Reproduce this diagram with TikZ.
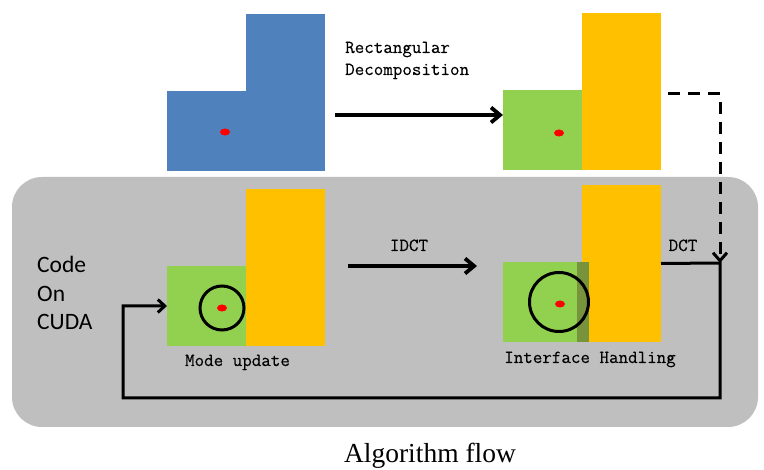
\documentclass[tikz,border=0pt]{standalone}
\usepackage{fontspec}
\setsansfont{Carlito}
\newfontfamily\flowfont{Liberation Serif}
\newfontfamily\notefont{Latin Modern Mono}[FakeBold=0.3]
\usepackage{tikz}
\usetikzlibrary{arrows.meta,positioning,shapes.geometric}

\definecolor{blockblue}{HTML}{4F81BD}
\definecolor{blockgreen}{HTML}{92D050}
\definecolor{blockyellow}{HTML}{FFC000}
\definecolor{blockdark}{HTML}{77933C}
\definecolor{panelgray}{HTML}{BFBFBF}

\begin{document}
\begin{tikzpicture}[x=1pt, y=-1pt,
    block/.style={rectangle, draw=none, inner sep=0pt, outer sep=0pt, minimum width=79pt},
    tall/.style={block, minimum height=157pt, fill=blockyellow},
    low/.style={block, minimum height=80pt, fill=blockgreen},
    seed/.style={ellipse, draw=none, fill=red, inner sep=0pt, minimum width=10pt, minimum height=7pt},
    ring/.style={circle, draw=black, line width=3pt, inner sep=0pt},
    flow/.style={line width=3.8pt, -{Straight Barb[length=9pt,width=15pt]}},
    feed/.style={line width=3pt, dash pattern=on 12pt off 8pt, -{Straight Barb[length=8pt,width=14pt]}},
    note/.style={font=\notefont\fontsize{18.5}{22}\selectfont, inner sep=0pt}
    ]
    \useasboundingbox (0,0) rectangle (764,470);

    \node (Panel) [rectangle, draw=none, fill=panelgray, rounded corners=30pt, inner sep=0pt,
        minimum width=746pt, minimum height=250pt] at (385,302) {};

    \node (Blue01) [tall, fill=blockblue] at (285.5,92.5) {};
    \node (Blue02) [low, fill=blockblue] at (206.5,131) {};
    \node (Seed01) [seed] at (225,132) {};

    \node (Yellow01) [tall] at (621.5,91.5) {};
    \node (Green01) [low] at (542.5,130) {};
    \node (Seed02) [seed] at (559,133) {};

    \node (Yellow02) [tall] at (285.5,267.5) {};
    \node (Green02) [low] at (206.5,306) {};
    \node (Ring02) [ring, minimum size=44pt] at (222,308) {};
    \node (Seed03) [seed] at (222,308) {};

    \node (Yellow03) [tall] at (621.5,263.5) {};
    \node (Green03) [low] at (542.5,302) {};
    \node (Strip03) [block, fill=blockdark, minimum width=12pt, minimum height=80pt] at (583,302) {};
    \node (Ring03) [ring, minimum size=59pt] at (559,302) {};
    \node (Seed04) [seed] at (560,304) {};

    \coordinate (DecoStart) at (335,115);
    \coordinate (DashStart) at (668,94);
    \coordinate (LoopCorner) at (720,263);
    \coordinate (LoopBottom) at (123,398);
    \coordinate (IdctStart) at (348,266);
    \coordinate (IdctEnd) at (477,266);

    \draw[flow] (DecoStart) -- (DecoStart -| Green01.west);
    \draw[feed] (DashStart) -| (LoopCorner);
    \draw[flow] (IdctStart) -- (IdctEnd);
    \draw[flow, line width=3pt, -{Straight Barb[length=7pt,width=13pt]}]
        (Yellow03.east) -- (LoopCorner) |- (LoopBottom) |- (Green02.west);

    \node (Deco) [note, align=left, anchor=base west] at (345,75) {Rectangular\\Decomposition};
    \node (Idct) [note, anchor=base] at (409,251) {IDCT};
    \node (Dct) [note, anchor=base] at (683,251) {DCT};
    \node (Mode) [note, anchor=base] at (237.5,366) {Mode update};
    \node (Iface) [note, anchor=base] at (590,363) {Interface Handling};
    \node (Host) [align=left, anchor=west, inner sep=0pt,
        font=\sffamily\fontsize{23.5}{28.5}\selectfont] at (37,293) {Code\\On\\CUDA};
    \node (Title) [anchor=base, inner sep=0pt, font=\flowfont\fontsize{27.5}{32}\selectfont] at (430,463) {Algorithm flow};
\end{tikzpicture}
\end{document}
